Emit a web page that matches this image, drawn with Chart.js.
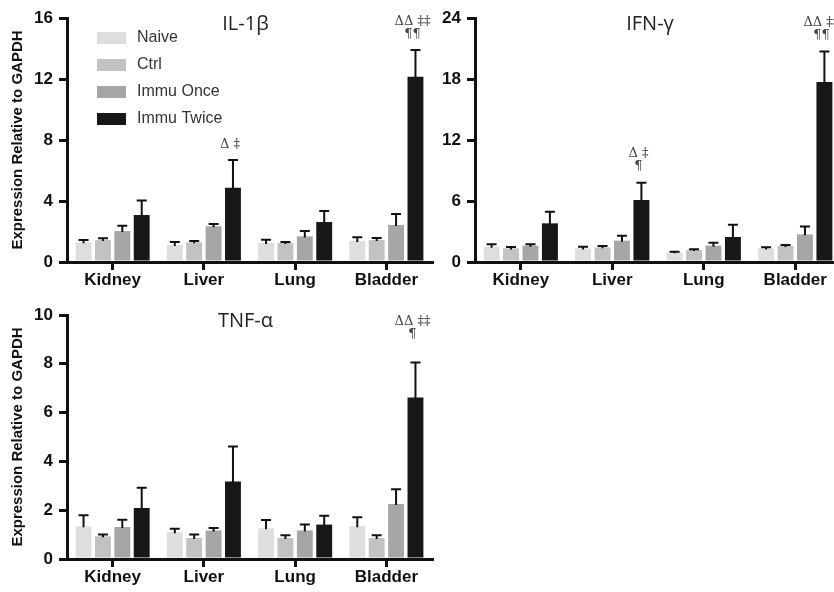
<!DOCTYPE html>
<html>
<head>
<meta charset="utf-8">
<script src="https://cdn.jsdelivr.net/npm/chart.js@4.4.1/dist/chart.umd.min.js"></script>
<style>
  html, body { margin: 0; padding: 0; background: #fff; }
  body { width: 834px; height: 592px; position: relative; overflow: hidden; }
  .panel { position: absolute; }
  #p1 { left: 0; top: 0; }
  #p2 { left: 410px; top: 0; }
  #p3 { left: 0; top: 290px; }
</style>
</head>
<body>
<div class="panel" id="p1"><canvas id="il1bChart" width="440" height="292"></canvas></div>
<div class="panel" id="p3"><canvas id="tnfChart" width="440" height="302"></canvas></div>
<div class="panel" id="p2"><canvas id="ifnChart" width="440" height="292"></canvas></div>
<script>
// ── Data ──
const organs = ['Kidney', 'Liver', 'Lung', 'Bladder'];
const groups = ['Naive', 'Ctrl', 'Immu Once', 'Immu Twice'];

// IL-1β (mean, SEM)
const il1bNaive = [1.29, 1.11, 1.25, 1.38];
const il1bCtrl  = [1.44, 1.29, 1.25, 1.44];
const il1bOnce  = [2.03, 2.34, 1.68, 2.43];
const il1bTwice = [3.08, 4.87, 2.62, 12.15];
const il1bNaiveErr = [0.15, 0.20, 0.21, 0.24];
const il1bCtrlErr  = [0.11, 0.09, 0.06, 0.13];
const il1bOnceErr  = [0.35, 0.15, 0.35, 0.72];
const il1bTwiceErr = [0.96, 1.82, 0.72, 1.75];
const il1bTicks = [0, 4, 8, 12, 16];

// IFN-γ
const ifnNaive = [1.51, 1.34, 0.95, 1.34];
const ifnCtrl  = [1.34, 1.44, 1.18, 1.57];
const ifnOnce  = [1.61, 2.10, 1.61, 2.72];
const ifnTwice = [3.80, 6.10, 2.46, 17.7];
const ifnNaiveErr = [0.23, 0.17, 0.07, 0.10];
const ifnCtrlErr  = [0.14, 0.13, 0.07, 0.10];
const ifnOnceErr  = [0.13, 0.49, 0.29, 0.76];
const ifnTwiceErr = [1.15, 1.70, 1.21, 3.00];
const ifnTicks = [0, 6, 12, 18, 24];

// TNF-α
const tnfNaive = [1.34, 1.10, 1.26, 1.34];
const tnfCtrl  = [0.93, 0.86, 0.86, 0.86];
const tnfOnce  = [1.31, 1.17, 1.17, 2.25];
const tnfTwice = [2.09, 3.18, 1.41, 6.62];
const tnfNaiveErr = [0.45, 0.14, 0.34, 0.37];
const tnfCtrlErr  = [0.07, 0.14, 0.11, 0.11];
const tnfOnceErr  = [0.30, 0.10, 0.24, 0.61];
const tnfTwiceErr = [0.83, 1.43, 0.36, 1.43];
const tnfTicks = [0, 2, 4, 6, 8, 10];

// significance marks above Immu Twice bars (top line first)
const il1bMarks = [{ organ: 'Liver', lines: ['Δ ‡'] }, { organ: 'Bladder', lines: ['ΔΔ ‡‡', '¶¶'] }];
const ifnMarks  = [{ organ: 'Liver', lines: ['Δ ‡', '¶'] }, { organ: 'Bladder', lines: ['ΔΔ ‡‡', '¶¶'] }];
const tnfMarks  = [{ organ: 'Bladder', lines: ['ΔΔ ‡‡', '¶'] }];

// ── Styles ──
const groupColors = ['#dddfde', '#c2c2c2', '#a6a6a6', '#171717'];
const SANS = "'Liberation Sans', Arial, sans-serif";
Chart.defaults.font.family = SANS;
Chart.defaults.color = '#111';

// ── Plugins ──
const errorBars = {
  id: 'errorBars',
  afterDatasetsDraw(chart, args, opts) {
    const { ctx } = chart;
    const y = chart.scales.y;
    ctx.save();
    ctx.strokeStyle = '#111';
    ctx.lineWidth = 2;
    chart.data.datasets.forEach((ds, i) => {
      chart.getDatasetMeta(i).data.forEach((bar, j) => {
        const top = y.getPixelForValue(ds.data[j] + ds.errors[j]);
        ctx.beginPath();
        ctx.moveTo(bar.x, bar.y + 1);
        ctx.lineTo(bar.x, top);
        ctx.moveTo(bar.x - 5, top);
        ctx.lineTo(bar.x + 5, top);
        ctx.stroke();
      });
    });
    ctx.restore();
  }
};

const decorations = {
  id: 'decorations',
  afterDraw(chart, args, opts) {
    const { ctx, chartArea } = chart;
    const y = chart.scales.y;
    ctx.save();

    // panel title
    ctx.fillStyle = '#222';
    ctx.font = "20px 'Open Sans', sans-serif";
    ctx.textAlign = 'center';
    ctx.textBaseline = 'middle';
    ctx.fillText(opts.title, (chartArea.left + chartArea.right) / 2 + opts.titleShift, chartArea.top + 6);

    // significance marks
    ctx.font = "13px 'DejaVu Serif', serif";
    ctx.fillStyle = '#444';
    const twice = chart.data.datasets.length - 1;
    const meta = chart.getDatasetMeta(twice);
    opts.marks.forEach(m => {
      const j = organs.indexOf(m.organ);
      const bar = meta.data[j];
      const ds = chart.data.datasets[twice];
      const cap = y.getPixelForValue(ds.data[j] + ds.errors[j]);
      const n = m.lines.length;
      m.lines.forEach((line, k) => {
        ctx.fillText(line, bar.x - 3, cap - opts.markGap - (n - 1 - k) * 13);
      });
    });

    // legend
    if (opts.legend) {
      ctx.font = '16px ' + SANS;
      ctx.textAlign = 'left';
      chart.data.datasets.forEach((ds, i) => {
        const cy = chartArea.top + 20 + i * 27;
        ctx.fillStyle = ds.backgroundColor;
        ctx.fillRect(chartArea.left + 30, cy - 6, 29, 12);
        ctx.fillStyle = '#333';
        ctx.fillText(ds.label, chartArea.left + 70, cy);
      });
    }
    ctx.restore();
  }
};

// ── Chart builder ──
function makeChart(id, p) {
  const ctx = document.getElementById(id).getContext('2d');
  new Chart(ctx, {
    type: 'bar',
    data: {
      labels: organs,
      datasets: groups.map((g, i) => ({
        label: g,
        data: p.means[i],
        errors: p.errs[i],
        backgroundColor: groupColors[i],
        borderWidth: 0,
        categoryPercentage: 0.85,
        barPercentage: 0.82,
      }))
    },
    options: {
      responsive: false,
      animation: false,
      layout: { padding: p.padding },
      plugins: {
        legend: { display: false },
        tooltip: { enabled: false },
        decorations: { title: p.title, titleShift: p.titleShift, marks: p.marks, markGap: p.markGap, legend: p.legend },
      },
      scales: {
        x: {
          grid: { display: true, drawOnChartArea: false, offset: false, drawTicks: true, tickLength: 8, lineWidth: 3, color: '#111' },
          border: { display: true, width: 3, color: '#111' },
          ticks: { padding: 0, font: { size: 17, weight: 'bold' }, color: '#111' },
          afterFit: s => { s.height = 30; }
        },
        y: {
          min: 0,
          max: p.ticks[p.ticks.length - 1],
          afterBuildTicks: s => { s.ticks = p.ticks.map(v => ({ value: v })); },
          grid: { display: true, drawOnChartArea: false, drawTicks: true, tickLength: 8, lineWidth: 3, color: '#111' },
          border: { display: true, width: 3, color: '#111' },
          ticks: { padding: 6, font: { size: 17, weight: 'bold' }, color: '#111' },
          title: {
            display: p.yTitle,
            text: 'Expression Relative to GAPDH',
            font: { size: 15, weight: 'bold' },
            color: '#111',
            padding: { top: 9, bottom: 0 }
          },
          afterFit: s => { s.width = p.yWidth; }
        }
      }
    },
    plugins: [errorBars, decorations]
  });
}

makeChart('il1bChart', {
  title: 'IL-1β', titleShift: -4,
  means: [il1bNaive, il1bCtrl, il1bOnce, il1bTwice],
  errs: [il1bNaiveErr, il1bCtrlErr, il1bOnceErr, il1bTwiceErr],
  ticks: il1bTicks, marks: il1bMarks, markGap: 15,
  legend: true, yTitle: true, yWidth: 67,
  padding: { top: 18, right: 8, bottom: 0, left: 0 }
});

makeChart('ifnChart', {
  title: 'IFN-γ', titleShift: -8,
  means: [ifnNaive, ifnCtrl, ifnOnce, ifnTwice],
  errs: [ifnNaiveErr, ifnCtrlErr, ifnOnceErr, ifnTwiceErr],
  ticks: ifnTicks, marks: ifnMarks, markGap: 16,
  legend: false, yTitle: false, yWidth: 65,
  padding: { top: 18, right: 9, bottom: 0, left: 0 }
});

makeChart('tnfChart', {
  title: 'TNF-α', titleShift: -4,
  means: [tnfNaive, tnfCtrl, tnfOnce, tnfTwice],
  errs: [tnfNaiveErr, tnfCtrlErr, tnfOnceErr, tnfTwiceErr],
  ticks: tnfTicks, marks: tnfMarks, markGap: 28,
  legend: false, yTitle: true, yWidth: 67,
  padding: { top: 25, right: 8, bottom: 3, left: 0 }
});
</script>
</body>
</html>
